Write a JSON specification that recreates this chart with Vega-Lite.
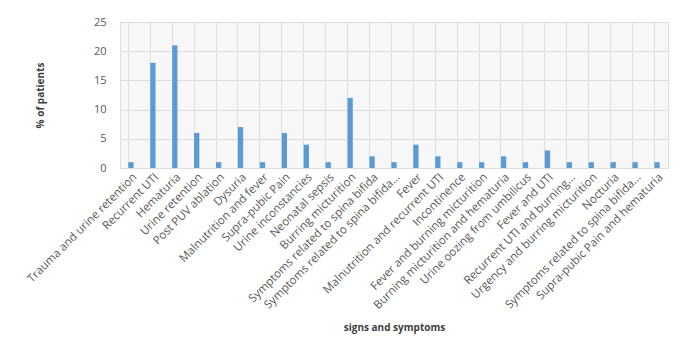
{
  "$schema": "https://vega.github.io/schema/vega-lite/v6.json",
  "width": 548,
  "height": 146,
  "autosize": "none",
  "padding": {"left": 120, "top": 22, "right": 16, "bottom": 185},
  "background": "white",
  "data": {"values": [
    {"symptom": "Trauma and urine retention", "pct": 1},
    {"symptom": "Recurrent UTI", "pct": 18},
    {"symptom": "Hematuria", "pct": 21},
    {"symptom": "Urine retention", "pct": 6},
    {"symptom": "Post  PUV  ablation", "pct": 1},
    {"symptom": "Dysuria", "pct": 7},
    {"symptom": "Malnutrition and fever", "pct": 1},
    {"symptom": "Supra-pubic Pain", "pct": 6},
    {"symptom": "Urine inconstancies", "pct": 4},
    {"symptom": "Neonatal  sepsis", "pct": 1},
    {"symptom": "Burring micturition", "pct": 12},
    {"symptom": "Symptoms related to spina bifida", "pct": 2},
    {"symptom": "Symptoms related to spina bifida...", "pct": 1},
    {"symptom": "Fever", "pct": 4},
    {"symptom": "Malnutrition and recurrent UTI", "pct": 2},
    {"symptom": "Incontinence", "pct": 1},
    {"symptom": "Fever and burning micturition", "pct": 1},
    {"symptom": "Burning micturition and hematuria", "pct": 2},
    {"symptom": "Urine oozing from umbilicus", "pct": 1},
    {"symptom": "Fever and UTI", "pct": 3},
    {"symptom": "Recurrent UTI and burning...", "pct": 1},
    {"symptom": "Urgency and burring micturition", "pct": 1},
    {"symptom": "Nocturia", "pct": 1},
    {"symptom": "Symptoms related to spina bifida... ", "pct": 1},
    {"symptom": "Supra-pubic Pain  and hematuria", "pct": 1}
  ]},
  "mark": {"type": "bar", "color": "#5B9BD5"},
  "encoding": {
    "x": {
      "field": "symptom", "type": "nominal", "sort": null,
      "scale": {"paddingInner": 0.76, "paddingOuter": 0.38},
      "axis": {
        "title": "signs and symptoms", "titleFontWeight": "bold", "titleFontSize": 10,
        "titleColor": "#404040", "titleFont": "Open Sans", "titlePadding": 12,
        "labelAngle": -45, "labelAlign": "right", "labelBaseline": "top",
        "labelFont": "Open Sans", "labelFontSize": 11.5, "labelColor": "#595959",
        "labelPadding": 3, "labelLimit": 0,
        "domain": false, "ticks": false,
        "grid": true, "gridColor": "#dedede", "bandPosition": 0
      }
    },
    "y": {
      "field": "pct", "type": "quantitative",
      "scale": {"domain": [0, 25]},
      "axis": {
        "title": "% of patients", "titleFontWeight": "bold", "titleFontSize": 10,
        "titleColor": "#404040", "titleFont": "Open Sans", "titlePadding": 48,
        "values": [0, 5, 10, 15, 20, 25],
        "labelFont": "Open Sans", "labelFontSize": 11, "labelColor": "#595959",
        "labelPadding": 14,
        "domain": false, "ticks": false, "gridColor": "#dedede"
      }
    }
  },
  "config": {
    "view": {"stroke": "#dedede", "fill": "#f7f7f7"}
  }
}
